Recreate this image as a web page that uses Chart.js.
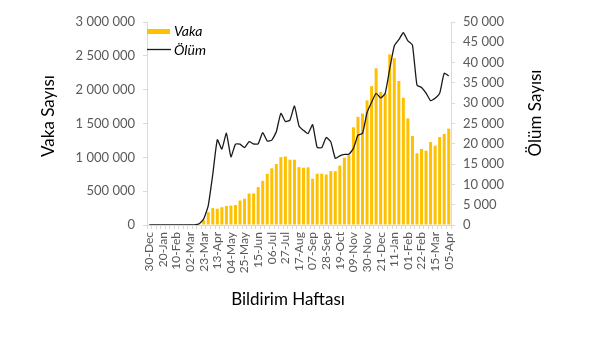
<!DOCTYPE html>
<html>
<head>
<meta charset="utf-8">
<script src="https://cdn.jsdelivr.net/npm/chart.js@4.4.1/dist/chart.umd.min.js"></script>
<style>
html,body{margin:0;padding:0;background:#fff;}
#wrap{width:597px;height:337px;position:relative;}
</style>
</head>
<body>
<div id="wrap"><canvas id="c"></canvas></div>
<script>
const weeks = ["30-Dec","06-Jan","13-Jan","20-Jan","27-Jan","03-Feb","10-Feb","17-Feb","24-Feb","02-Mar",
"09-Mar","16-Mar","23-Mar","30-Mar","06-Apr","13-Apr","20-Apr","27-Apr","04-May","11-May",
"18-May","25-May","01-Jun","08-Jun","15-Jun","22-Jun","29-Jun","06-Jul","13-Jul","20-Jul",
"27-Jul","03-Aug","10-Aug","17-Aug","24-Aug","31-Aug","07-Sep","14-Sep","21-Sep","28-Sep",
"05-Oct","12-Oct","19-Oct","26-Oct","02-Nov","09-Nov","16-Nov","23-Nov","30-Nov","07-Dec",
"14-Dec","21-Dec","28-Dec","04-Jan","11-Jan","18-Jan","25-Jan","01-Feb","08-Feb","15-Feb",
"22-Feb","01-Mar","08-Mar","15-Mar","22-Mar","29-Mar","05-Apr"];

const vaka = [0,0,0,0,0,0,0,0,0,1500,
8000,10000,70000,190000,250000,240000,263000,281000,288000,295000,
362000,389000,465000,466000,560000,652000,756000,838000,901000,1003000,
1012000,965000,965000,855000,847000,852000,684000,758000,758000,746000,
796000,795000,877000,995000,1032000,1444000,1598000,1648000,1842000,2052000,
2316000,1965000,1940000,2522000,2465000,2128000,1880000,1575000,1315000,1059000,
1123000,1098000,1226000,1172000,1300000,1345000,1424000];

const olum = [0,0,0,0,0,0,0,0,0,0,
0,300,1500,4800,12500,21000,18700,22600,16800,19900,
19900,19050,20550,19950,20000,22750,20700,20900,22950,27500,
25500,25850,29300,24400,23300,22500,24700,19130,19050,21550,
20500,16420,17040,17400,17410,18880,22130,22580,27700,30250,
32450,31300,32450,38500,44100,45650,47350,45350,44330,34480,
33870,32500,30620,31200,32430,37360,36700];

const leftTicks = [0,500000,1000000,1500000,2000000,2500000,3000000];
const rightTicks = [0,5000,10000,15000,20000,25000,30000,35000,40000,45000,50000];

const seriesNames = ["Vaka","Ölüm"];
const axisTitles = {left:"Vaka Sayısı", right:"Ölüm Sayısı", bottom:"Bildirim Haftası"};

const FONT = "Lato";
const fmt = v => String(v).replace(/\B(?=(\d{3})+(?!\d))/g, " ");

Chart.defaults.font.family = FONT;

const overlay = {
  id: 'overlay',
  afterDraw(chart) {
    const ctx = chart.ctx;
    const ca = chart.chartArea;
    const ds0 = chart.data.datasets[0], ds1 = chart.data.datasets[1];
    ctx.save();
    // legend
    ctx.font = "italic 14px " + FONT;
    ctx.textBaseline = "middle";
    ctx.textAlign = "left";
    ctx.fillStyle = ds0.backgroundColor;
    ctx.fillRect(ca.left, 29, 23, 5);
    ctx.fillStyle = "#000";
    ctx.fillText(seriesNames[0], ca.left + 27, 31);
    ctx.strokeStyle = ds1.borderColor;
    ctx.lineWidth = 1.3;
    ctx.beginPath();
    ctx.moveTo(ca.left, 49.5);
    ctx.lineTo(ca.left + 24, 49.5);
    ctx.stroke();
    ctx.fillText(seriesNames[1], ca.left + 27, 50);
    // axis titles
    ctx.font = "17px " + FONT;
    ctx.fillStyle = "#000";
    ctx.textAlign = "center";
    ctx.save();
    ctx.translate(49, 116);
    ctx.rotate(-Math.PI/2);
    ctx.fillText(axisTitles.left, 0, 0);
    ctx.restore();
    ctx.save();
    ctx.translate(536, 113);
    ctx.rotate(-Math.PI/2);
    ctx.fillText(axisTitles.right, 0, 0);
    ctx.restore();
    ctx.fillText(axisTitles.bottom, 288, 300);
    ctx.restore();
  }
};

new Chart(document.getElementById('c'), {
  data: {
    labels: weeks,
    datasets: [
      {type:'bar', label: seriesNames[0], data: vaka, backgroundColor:'#FFC000', yAxisID:'y',
       barPercentage:0.66, categoryPercentage:1.0, order:1},
      {type:'line', label: seriesNames[1], data: olum, borderColor:'#1a1a1a', borderWidth:1.3,
       pointRadius:0, tension:0.15, yAxisID:'y1', order:0}
    ]
  },
  options: {
    responsive:true, maintainAspectRatio:false, animation:false,
    layout:{padding:{top:22, left:0, right:0, bottom:0}},
    plugins:{legend:{display:false}, tooltip:{enabled:false}},
    scales:{
      x:{
        type:'category', offset:true,
        grid:{offset:true, drawOnChartArea:false, drawTicks:true, tickLength:4, color:'#d9d9d9'},
        border:{display:true, color:'#d9d9d9'},
        ticks:{autoSkip:false, maxRotation:90, minRotation:90, padding:3, color:'#595959',
               font:{size:12, family:FONT},
               callback:(v,i)=> (i%3===0 ? weeks[i] : '')},
        afterFit:(s)=>{ s.height = 112; }
      },
      y:{
        position:'left', min:0, max:3000000,
        grid:{drawOnChartArea:false, drawTicks:true, tickLength:4, color:'#d9d9d9'},
        border:{display:true, color:'#d9d9d9'},
        afterBuildTicks:(s)=>{ s.ticks = leftTicks.map(v=>({value:v})); },
        ticks:{color:'#595959', padding:8, font:{size:13, family:FONT}, callback:(v)=>fmt(v)},
        afterFit:(s)=>{ s.width = 147; }
      },
      y1:{
        position:'right', min:0, max:50000,
        grid:{drawOnChartArea:false, drawTicks:true, tickLength:4, color:'#d9d9d9'},
        border:{display:true, color:'#d9d9d9'},
        afterBuildTicks:(s)=>{ s.ticks = rightTicks.map(v=>({value:v})); },
        ticks:{color:'#595959', padding:8, font:{size:13, family:FONT}, callback:(v)=>fmt(v)},
        afterFit:(s)=>{ s.width = 146; }
      }
    }
  },
  plugins:[overlay]
});
</script>
</body>
</html>
